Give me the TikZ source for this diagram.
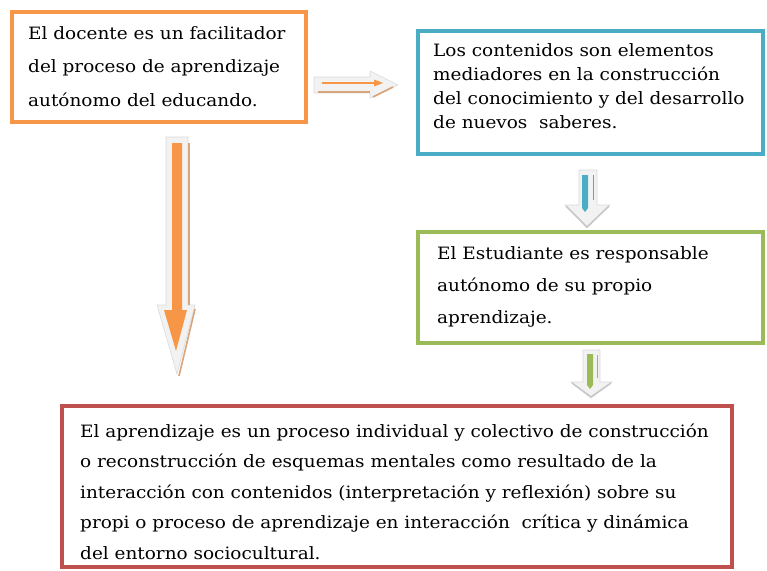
\documentclass[tikz,border=0pt]{standalone}
\usepackage{fontspec}
\setmainfont[FakeStretch=1.085]{DejaVu Serif}
\definecolor{cor}{HTML}{F79646}
\definecolor{cbl}{HTML}{4BACC6}
\definecolor{cgr}{HTML}{9BBB59}
\definecolor{cre}{HTML}{C0504D}
\definecolor{ctan}{HTML}{D9A57A}
\definecolor{cgl}{HTML}{F2F2F2}
\definecolor{cgd}{HTML}{C8C8C8}
\begin{document}
\begin{tikzpicture}[x=1pt,y=-1pt,
  box/.style={draw, line width=4.5pt, fill=white, inner sep=0pt},
  txt/.style={anchor=base west, inner sep=0pt, font=\fontsize{17}{20}\selectfont},
  glow/.style={fill=cgl, draw=cgl!80!gray, line width=0.6pt},
  shade/.style={draw=ctan, line width=1.6pt}]
\useasboundingbox[fill=white] (0,0) rectangle (767,570);
% boxes
\node[box, draw=cor, minimum width=294pt, minimum height=110pt] (b1) at (159,67) {};
\node[box, draw=cbl, minimum width=345pt, minimum height=123pt] (b2) at (590.5,92.5) {};
\node[box, draw=cgr, minimum width=345pt, minimum height=111pt] (b3) at (590.5,287.5) {};
\node[box, draw=cre, minimum width=670pt, minimum height=161pt] (b4) at (397,486.5) {};
% texts
\node[txt] (t1) at (28,39) {\vtop{\baselineskip=33.5pt
  \hbox{El docente es un facilitador}
  \hbox{del proceso de aprendizaje}
  \hbox{autónomo del educando.}}};
\node[txt] (t2) at (433,56) {\vtop{\baselineskip=24pt
  \hbox{Los contenidos son elementos}
  \hbox{mediadores en la construcción}
  \hbox{del conocimiento y del desarrollo}
  \hbox{de nuevos\ \ saberes.}}};
\node[txt] (t3) at (437,259) {\vtop{\baselineskip=32pt
  \hbox{El Estudiante es responsable}
  \hbox{autónomo de su propio}
  \hbox{aprendizaje.}}};
\node[txt] (t4) at (80,437) {\vtop{\baselineskip=30.5pt
  \hbox{El aprendizaje es un proceso individual y colectivo de construcción}
  \hbox{o reconstrucción de esquemas mentales como resultado de la}
  \hbox{interacción con contenidos (interpretación y reflexión) sobre su}
  \hbox{propi o proceso de aprendizaje en interacción\ \ crítica y dinámica}
  \hbox{del entorno sociocultural.}}};
% horizontal arrow b1 -> b2
\coordinate (h0) at (314,85);
\coordinate (h1) at (398,85);
\fill[glow] (314,77) -- (370,77) -- (370,71) -- (h1) -- (370,98) -- (370,93) -- (314,93) -- cycle;
\draw[shade] (318,92) -- (370,92);
\draw[shade] (373,97) -- (393,87);
\draw[cor, line width=1.6pt] (322,83) -- (376,83);
\fill[cor] (374,79.5) -- (383,83) -- (374,86.5) -- cycle;
% big vertical orange arrow b1 -> b4
\coordinate (v0) at (177,137);
\coordinate (v1) at (177,374);
\fill[glow] (166,137) -- (188,137) -- (188,305) -- (195,305) -- (v1) -- (157,305) -- (166,305) -- cycle;
\draw[shade] (189,143) -- (189,305);
\draw[shade] (195,309) -- (179,376);
\fill[cor] (172,143) -- (182,143) -- (182,310) -- (187,310) -- (176,351) -- (164,310) -- (172,310) -- cycle;
% blue arrow b2 -> b3
\coordinate (a0) at (587,170);
\coordinate (a1) at (587,228);
\fill[glow] (579,170) -- (597,170) -- (597,205) -- (610,205) -- (a1) -- (565,205) -- (579,205) -- cycle;
\draw[cgd, line width=1.6pt] (609,206) -- (587,227) -- (566,206);
\fill[cbl] (582,175) -- (588,175) -- (588,208) -- (585,212) -- (582,208) -- cycle;
\draw[cbl, line width=0.8pt] (593,175) -- (593,200);
% green arrow b3 -> b4
\coordinate (g0) at (591,350);
\coordinate (g1) at (591,398);
\fill[glow] (583,350) -- (600,350) -- (600,382) -- (612,382) -- (g1) -- (571,382) -- (583,382) -- cycle;
\draw[cgd, line width=1.6pt] (611,383) -- (591,397) -- (572,383);
\fill[cgr] (587,354) -- (593,354) -- (593,385) -- (590,389) -- (587,385) -- cycle;
\draw[cgr, line width=0.8pt] (597,355) -- (597,378);
\end{tikzpicture}
\end{document}
